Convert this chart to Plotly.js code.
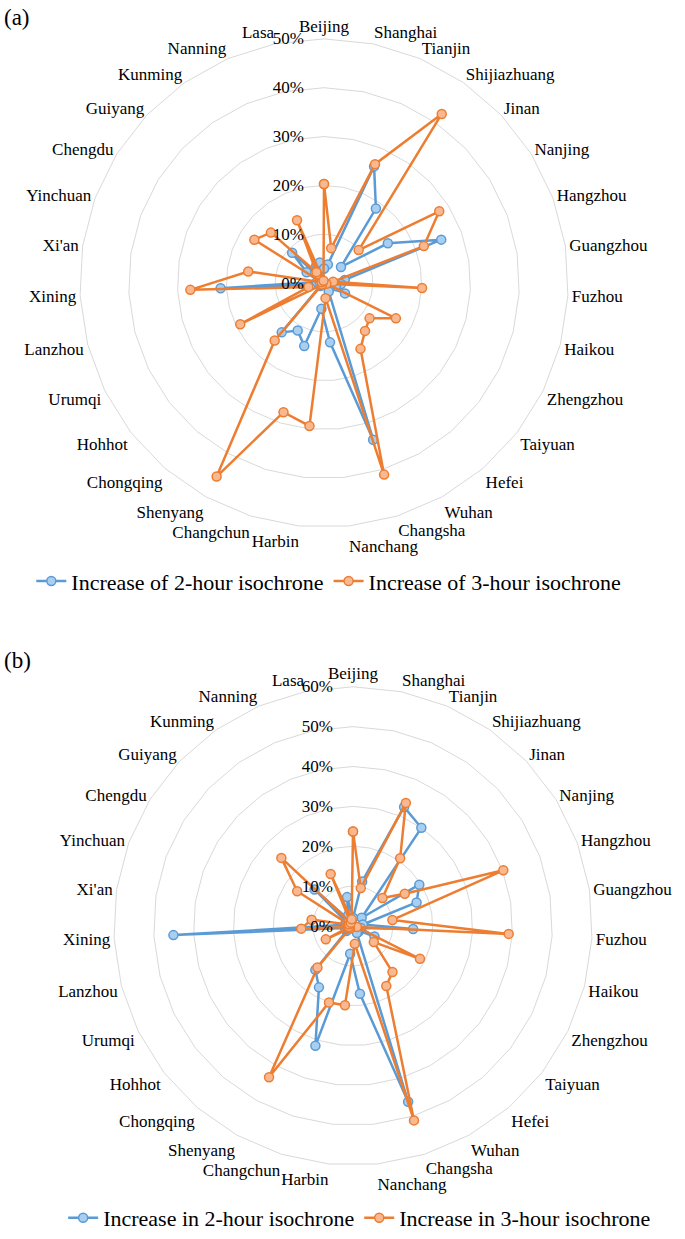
<!DOCTYPE html>
<html><head><meta charset="utf-8">
<script src="https://cdn.plot.ly/plotly-3.0.1.min.js"></script>
<style>html,body{margin:0;padding:0;background:#fff}#chart{width:685px;height:1239px}</style>
</head><body><div id="chart"></div>
<script>
const cities = ['Beijing','Shanghai','Tianjin','Shijiazhuang','Jinan','Nanjing','Hangzhou','Guangzhou','Fuzhou','Haikou','Zhengzhou','Taiyuan','Hefei','Wuhan','Changsha','Nanchang','Harbin','Changchun','Shenyang','Chongqing','Hohhot','Urumqi','Lanzhou','Xining',"Xi'an",'Yinchuan','Chengdu','Guiyang','Kunming','Nanning','Lasa'];

// Panel (a), values in %
const a2h = [3.0,3.9,26.0,18.6,4.8,15.4,25.6,4.3,3.5,2.5,4.8,1.5,1.5,2.0,33.6,12.2,5.3,13.5,11.1,13.3,1.0,1.0,1.0,21.2,1.5,1.0,4.2,9.0,1.5,4.0,4.3];
const a3h = [20.3,7.3,26.5,42.2,9.8,27.8,21.8,1.9,20.1,0.5,16.4,11.8,12.9,15.4,41.1,3.1,29.4,27.7,45.3,15.5,0.5,19.1,3.3,27.4,15.7,0.5,16.8,15.0,2.7,14.0,0.5];
// Panel (b), values in %
const b2h = [2.0,11.4,32.5,30.0,3.0,19.6,17.0,2.5,15.1,2.0,6.0,2.0,2.0,2.0,46.2,17.1,7.0,31.5,17.6,14.5,2.0,2.0,2.0,45.1,2.0,2.0,2.0,13.3,2.0,3.0,7.4];
const b3h = [23.7,9.7,33.6,20.7,10.2,15.3,40.2,10.0,39.1,1.0,18.7,6.6,15.2,17.2,51.1,4.5,20.0,20.1,43.4,13.7,1.0,7.6,1.0,13.0,10.5,1.0,16.5,24.8,1.0,14.2,1.7];

const legendA = ['Increase of 2-hour isochrone','Increase of 3-hour isochrone'];
const legendB = ['Increase in 2-hour isochrone','Increase in 3-hour isochrone'];

const BLUE = '#5B9BD5', BLUE_FILL = '#A9CFF0';
const ORANGE = '#ED7D31', ORANGE_FILL = '#F8B992';
const FONT = 'Liberation Serif, Times New Roman, serif';

// angular tick texts: nudge the crowded bottom labels apart vertically
const cityText = cities.map(c => {
  if (c === 'Changsha') return '<span style="baseline-shift:2px">' + c + '</span>';
  if (c === 'Nanchang') return '<span style="baseline-shift:-5px">' + c + '</span>';
  return c;
});

const closeLoop = arr => arr.concat([arr[0]]);
function series(r, name, color, fill, subplot, legend) {
  return {
    type: 'scatterpolar', mode: 'lines+markers',
    r: closeLoop(r), theta: closeLoop(cities),
    name: name, subplot: subplot, legend: legend,
    line: {color: color, width: 2.5},
    marker: {size: 9, color: fill, line: {color: color, width: 1.5}},
    hoverinfo: 'skip'
  };
}

function polarCfg(dx, dy, maxR) {
  return {
    domain: {x: dx, y: dy},
    gridshape: 'linear',
    bgcolor: 'rgba(0,0,0,0)',
    radialaxis: {
      range: [0, maxR], dtick: 10, ticksuffix: '%\u00a0\u00a0\u00a0\u00a0', angle: 90, side: 'counterclockwise',
      tickangle: 90,
      showline: false, ticks: '', gridcolor: '#d9d9d9', gridwidth: 1,
      tickfont: {family: FONT, size: 17, color: '#000'}
    },
    angularaxis: {
      type: 'category', categoryarray: cities, rotation: 90, direction: 'clockwise',
      tickmode: 'array', tickvals: cities, ticktext: cityText,
      showgrid: false, showline: true, linecolor: '#d9d9d9', linewidth: 1, ticks: '',
      tickfont: {family: FONT, size: 17, color: '#000'}
    }
  };
}

const data = [
  series(a2h, legendA[0], BLUE, BLUE_FILL, 'polar', 'legend'),
  series(a3h, legendA[1], ORANGE, ORANGE_FILL, 'polar', 'legend'),
  series(b2h, legendB[0], BLUE, BLUE_FILL, 'polar2', 'legend2'),
  series(b3h, legendB[1], ORANGE, ORANGE_FILL, 'polar2', 'legend2')
];

const W = 685, H = 1239;
function dom(cx, cy, R) {
  return {x: [(cx - R) / W, (cx + R) / W], y: [1 - (cy + R) / H, 1 - (cy - R) / H]};
}
const dA = dom(324, 284, 245), dB = dom(353, 929, 240);

const legendBase = {
  orientation: 'h', xanchor: 'center', yanchor: 'middle',
  font: {family: FONT, size: 22, color: '#000'}, bgcolor: 'rgba(0,0,0,0)', itemwidth: 30
};

const layout = {
  width: W, height: H, margin: {l: 0, r: 0, t: 0, b: 0},
  paper_bgcolor: '#fff', showlegend: true,
  polar: polarCfg(dA.x, dA.y, 50),
  polar2: polarCfg(dB.x, dB.y, 60),
  legend: Object.assign({}, legendBase, {x: 0.48, y: 1 - 583 / H}),
  legend2: Object.assign({}, legendBase, {x: 0.525, y: 1 - 1222 / H}),
  annotations: [
    {text: '(a)', xref: 'paper', yref: 'paper', x: 0.003, y: 1 - 18 / H, xanchor: 'left', yanchor: 'middle', showarrow: false, font: {family: FONT, size: 23, color: '#000'}},
    {text: '(b)', xref: 'paper', yref: 'paper', x: 0.003, y: 1 - 663 / H, xanchor: 'left', yanchor: 'middle', showarrow: false, font: {family: FONT, size: 23, color: '#000'}}
  ]
};

Plotly.newPlot('chart', data, layout, {displayModeBar: false, staticPlot: true});
</script>
</body></html>
